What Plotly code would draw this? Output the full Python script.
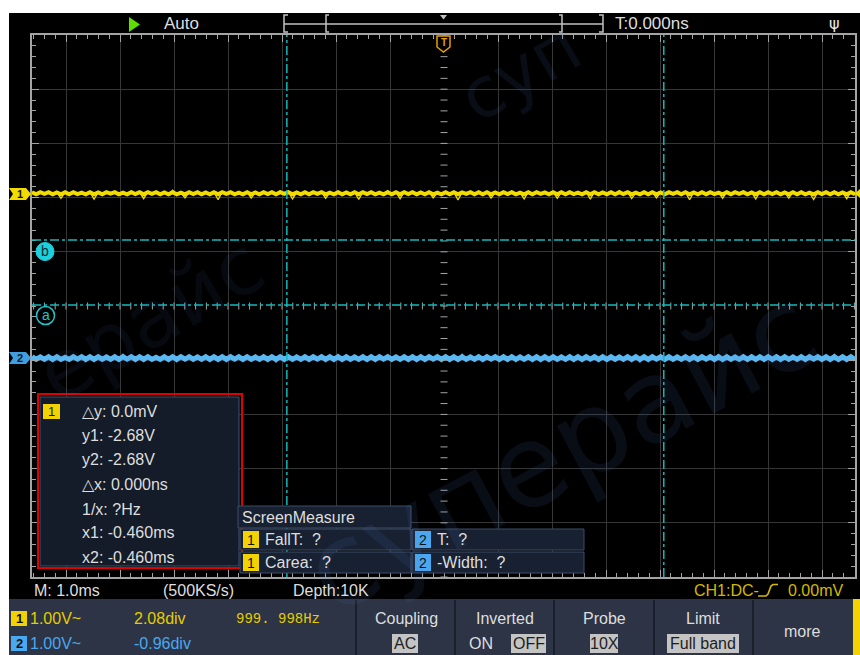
import numpy as np
import plotly.graph_objects as go

W, H = 860, 655
FONT = "Liberation Sans"

# ---------------- data ----------------
ch1_offset_div = 2.08
ch2_offset_div = -0.96
volts_per_div = 1.00
ms_per_div = 1.0

# noise around each channel's level, in mV (hand-read approximation of the traces)
ch1_noise_mv = [
    20, -25, 30, -10, 25, -30, 15, -95, 20, -20, 35, -15, 10, -30, 25, -110, 15, -25, 30, -5,
    25, -30, 10, -20, 40, -15, 20, -100, 25, -10, 30, -25, 15, -30, 55, -20, 10, -85, 25, -15,
    30, -20, 15, -30, 20, -120, 25, -10, 35, -25, 10, -20, 25, -90, 15, -30, 30, -15, 20, -25,
    45, -10, 25, -105, 15, -30, 20, -20, 30, -10, 25, -95, 10, -25, 35, -20, 15, -30, 20, -115,
    25, -15, 30, -25, 10, -20, 50, -30, 20, -100, 25, -15, 30, -25, 15, -20, 25, -85, 10, -30,
    30, -20, 20, -125, 15, -10, 35, -25, 20, -30, 25, -90, 15, -20, 30, -15, 40, -25, 10, -105,
    25, -20, 30, -10, 15, -30, 25, -95, 20, -25, 35, -15, 10, -20, 25, -110, 30, -25, 15, -20,
    20, -30, 50, -15, 25, -100, 10, -20, 30, -25, 20, -85, 15, -30, 25, -10, 35, -20, 20, -120,
    15, -25, 30, -20, 25, -15, 10, -95, 30, -30, 20, -10, 45, -25, 15, -105, 25, -20, 30, -15,
    20, -30, 15, -90, 25, -20, 30, -25, 10, -115, 20, -15, 35, -30, 25, -20, 15, -100, 30, -25,
]
ch2_noise_mv = [
    30, -35, 20, -40, 45, -25, 35, -30, 15, -45, 40, -20, 30, -60, 25, -35, 45, -25, 20, -40,
    35, -30, 70, -20, 25, -45, 30, -35, 40, -25, 15, -40, 35, -30, 25, -65, 40, -20, 30, -35,
    20, -45, 35, -25, 40, -30, 25, -40, 60, -20, 30, -35, 45, -25, 20, -40, 35, -30, 25, -70,
    40, -25, 30, -35, 20, -45, 35, -30, 45, -20, 25, -40, 30, -35, 65, -25, 40, -30, 20, -45,
    30, -35, 25, -40, 45, -20, 35, -60, 20, -30, 40, -25, 30, -45, 25, -35, 35, -20, 40, -30,
    25, -40, 30, -25, 70, -35, 20, -45, 35, -30, 40, -20, 25, -40, 30, -35, 45, -65, 20, -30,
    35, -25, 40, -40, 25, -30, 30, -45, 20, -35, 60, -25, 35, -30, 40, -20, 25, -45, 30, -35,
    45, -30, 20, -40, 35, -25, 30, -70, 40, -35, 25, -20, 35, -45, 30, -30, 20, -40, 45, -25,
    30, -35, 40, -20, 25, -45, 65, -30, 35, -25, 20, -40, 30, -35, 45, -25, 35, -60, 25, -30,
    40, -25, 30, -45, 20, -35, 35, -30, 45, -20, 30, -40, 25, -35, 70, -25, 40, -45, 30, -35,
]

cursor_x_ms = [-2.91, 4.07]      # vertical cursors
cursor_b_div = 1.22              # horizontal cursor b
cursor_a_div = 0.02              # horizontal cursor a

cursor_readout = ["\u25b3y: 0.0mV", "y1: -2.68V", "y2: -2.68V", "\u25b3x: 0.000ns",
                  "1/x: ?Hz", "x1: -0.460ms", "x2: -0.460ms"]
measure_header = "ScreenMeasure"
measure_cells = [["1", "FallT:\u00a0\u00a0?"], ["2", "T:\u00a0\u00a0?"],
                 ["1", "Carea:\u00a0\u00a0?"], ["2", "-Width:\u00a0\u00a0?"]]
status_texts = ["M: 1.0ms", "(500KS/s)", "Depth:10K"]
trigger_status = ["CH1:DC-", "0.00mV"]
ch_info = [["1", "1.00V~", "2.08div", "999.\u00a0998Hz"], ["2", "1.00V~", "-0.96div", ""]]
menu_titles = ["Coupling", "Inverted", "Probe", "Limit", "more"]
menu_values = ["AC", "OFF", "10X", "Full band", ""]
top_texts = ["Auto", "T:0.000ns"]

# ---------------- geometry / style ----------------
GX0, GX1, GCX, DIVX = 32, 855, 444, 54.0
GY0, GY1 = 35, 577
x_min = (GX0 - GCX) / DIVX * ms_per_div
x_max = (GX1 - GCX) / DIVX * ms_per_div

YEL = "#f2dc00"
BLU = "#5ab8f2"
CYAN = "#14b8bc"
GRIDC = "#363636"
BORDC = "#a4a4a4"
TXT = "#dedede"

shapes = []
ann = []


def fx(x):
    return x / W


def fy(y):
    return 1 - y / H


def rect(x0, y0, x1, y1, fill, line=None, lw=1, layer="above"):
    shapes.append(dict(type="rect", xref="paper", yref="paper",
                       x0=fx(x0), x1=fx(x1), y0=fy(y1), y1=fy(y0),
                       fillcolor=fill, layer=layer,
                       line=dict(color=line if line else "rgba(0,0,0,0)", width=lw if line else 0)))


def path(pts, fill=None, line=None, lw=1.5, close=True):
    d = "M " + " L ".join(f"{fx(x):.5f},{fy(y):.5f}" for x, y in pts)
    if close:
        d += " Z"
    shapes.append(dict(type="path", xref="paper", yref="paper", path=d,
                       fillcolor=fill if fill else "rgba(0,0,0,0)", layer="above",
                       line=dict(color=line if line else "rgba(0,0,0,0)", width=lw if line else 0)))


def text(x, y, s, size=16, color=TXT, anchor="left", family=FONT, angle=0):
    ann.append(dict(x=fx(x), y=fy(y), xref="paper", yref="paper", text=s, showarrow=False,
                    xanchor=anchor, yanchor="middle", textangle=angle,
                    font=dict(size=size, color=color, family=family)))


fig = go.Figure()

# ---------------- waveforms ----------------
n1 = np.array(ch1_noise_mv, dtype=float)
n2 = np.array(ch2_noise_mv, dtype=float)
t1 = np.linspace(x_min, x_max, len(n1))
t2 = np.linspace(x_min, x_max, len(n2))
y1 = ch1_offset_div + n1 / 1000.0 / volts_per_div
y2 = ch2_offset_div + n2 / 1000.0 / volts_per_div
# dense core of each trace (small excursions), drawn thick
y1c = ch1_offset_div + np.clip(n1, -20, 20) / 1000.0 / volts_per_div
y2c = ch2_offset_div + np.clip(n2, -25, 25) / 1000.0 / volts_per_div

fig.add_trace(go.Scatter(x=t1, y=y1c, mode="lines", line=dict(color=YEL, width=4), hoverinfo="skip"))
fig.add_trace(go.Scatter(x=t1, y=y1, mode="lines", line=dict(color=YEL, width=1.3), hoverinfo="skip"))
fig.add_trace(go.Scatter(x=t2, y=y2c, mode="lines", line=dict(color=BLU, width=5), hoverinfo="skip"))
fig.add_trace(go.Scatter(x=t2, y=y2, mode="lines", line=dict(color=BLU, width=1.3), hoverinfo="skip"))

# centre cross ticks
cy_ticks = np.arange(-5, 5.001, 0.2)
cx_ticks = np.arange(-7.6, 7.61, 0.2)
fig.add_trace(go.Scatter(x=[0] * len(cy_ticks), y=cy_ticks, mode="markers", hoverinfo="skip",
                         marker=dict(symbol="line-ew", size=5, line=dict(color=BORDC, width=1))))
fig.add_trace(go.Scatter(x=cx_ticks, y=[0] * len(cx_ticks), mode="markers", hoverinfo="skip",
                         marker=dict(symbol="line-ns", size=5, line=dict(color=BORDC, width=1))))

# ---------------- backgrounds ----------------
rect(9, 13, 860, 600, "#000000", layer="below")

# watermark (faint), kept inside the picture
WM = "rgba(90,130,210,0.10)"
text(520, 72, "суп", size=70, color=WM, anchor="center", family="DejaVu Sans", angle=-30)
text(560, 450, "суперайс", size=115, color=WM, anchor="center", family="DejaVu Sans", angle=-28)
text(150, 320, "ерайс", size=80, color="rgba(90,130,210,0.07)", anchor="center", family="DejaVu Sans", angle=-30)

# ---------------- cursors ----------------
for cx in cursor_x_ms:
    shapes.append(dict(type="line", xref="x", yref="y", x0=cx, x1=cx, y0=-5, y1=5, layer="above",
                       line=dict(color=CYAN, width=1.5, dash="dashdot")))
for cyv in (cursor_b_div, cursor_a_div):
    shapes.append(dict(type="line", xref="x", yref="y", x0=x_min, x1=x_max, y0=cyv, y1=cyv, layer="above",
                       line=dict(color=CYAN, width=1.5, dash="dashdot")))

# cursor markers a / b
shapes.append(dict(type="circle", xref="paper", yref="paper", x0=fx(36), x1=fx(54), y0=fy(260.5), y1=fy(242.5),
                   fillcolor="#1fd0dc", line=dict(color="#1fd0dc", width=1), layer="above"))
text(45, 251, "b", size=14, color="#002a30", anchor="center")
shapes.append(dict(type="circle", xref="paper", yref="paper", x0=fx(36.5), x1=fx(54.5), y0=fy(324.5), y1=fy(306.5),
                   fillcolor="#000000", line=dict(color="#1fc4cc", width=1.5), layer="above"))
text(45.5, 315, "a", size=14, color="#1fc4cc", anchor="center")

# ---------------- cursor readout box ----------------
rect(40, 397, 239, 566, "#151c29", line="#3a5272", lw=1)
rect(38, 394, 242, 568, "rgba(0,0,0,0)", line="#e00000", lw=2)
rect(43, 404, 60, 419, "#f2d200")
text(51.5, 411.5, "1", size=13, color="#1a1a1a", anchor="center")
ys = [411.5, 435, 459, 484, 509, 532, 557]
for s, yy in zip(cursor_readout, ys):
    text(80, yy, s, size=16)

# ---------------- ScreenMeasure panel ----------------
PANEL = "#182131"
PBORD = "#3c4d68"
rect(238, 506, 411, 528, PANEL, line=PBORD)
text(240, 517, measure_header, size=16)
cells = [(240, 529, 411, 550), (412, 529, 584, 550), (240, 552, 411, 573), (412, 552, 584, 573)]
for (ch, lab), (x0, y0, x1, y1_) in zip(measure_cells, cells):
    rect(x0, y0, x1, y1_, PANEL, line=PBORD)
    col = "#f2d200" if ch == "1" else "#4aa8f0"
    rect(x0 + 3, y0 + 2, x0 + 19, y1_ - 2, col)
    text(x0 + 11, (y0 + y1_) / 2, ch, size=14, color="#111111", anchor="center")
    text(x0 + 23, (y0 + y1_) / 2, lab, size=16)

# ---------------- top bar ----------------
path([(129, 17), (140, 24.5), (129, 32)], fill="#5ee000")
text(162, 24, top_texts[0], size=17)
GRY = "#c2c2c2"
path([(288, 15), (284, 15), (284, 32), (288, 32)], line=GRY, lw=1.5, close=False)
path([(284, 24), (603, 24)], line=GRY, lw=1.5, close=False)
path([(329, 15), (326, 15), (326, 32), (329, 32)], line=GRY, lw=1.5, close=False)
path([(559, 15), (562, 15), (562, 32), (559, 32)], line=GRY, lw=1.5, close=False)
path([(599, 15), (603, 15), (603, 32), (599, 32)], line=GRY, lw=1.5, close=False)
path([(440, 15), (447, 15), (443.5, 19.5)], fill=GRY)
text(613, 24, top_texts[1], size=17)
text(834, 23, "ψ", size=16, color="#e8e8e8", anchor="center", family="DejaVu Sans")

# trigger position marker
path([(437, 36), (450, 36), (450, 47), (443.5, 52), (437, 47)], fill="#000000", line="#e8a000", lw=1.5)
text(443.5, 43, "<b>T</b>", size=10, color="#e8a000", anchor="center")

# channel level markers
path([(9, 188), (26, 188), (31, 194), (26, 200), (9, 200), (13, 194)], fill=YEL)
text(20, 194, "<b>1</b>", size=11, color="#111111", anchor="center")
path([(9, 352), (26, 352), (31, 358), (26, 364), (9, 364), (13, 358)], fill="#3f9ee0")
text(20, 358, "<b>2</b>", size=11, color="#0a1a2a", anchor="center")
# trigger level marker (right)
path([(860, 189), (855, 193.5), (860, 198)], fill=YEL)

# ---------------- status line ----------------
text(32, 590, status_texts[0], size=16)
text(161, 590, status_texts[1], size=16)
text(291, 590, status_texts[2], size=16)
TYEL = "#d4b800"
text(692, 590, trigger_status[0], size=16, color=TYEL)
path([(758, 596), (766, 596), (768, 594), (771, 586), (773, 584.5), (778, 584.5)], line=TYEL, lw=1.6, close=False)
text(786, 590, trigger_status[1], size=16, color=TYEL)

# ---------------- bottom menu ----------------
MENU = "#2c3445"
rect(9, 599, 853, 655, MENU)
rect(853, 599, 860, 655, "#f2d200")
for sx in (356, 455, 554, 654, 753):
    path([(sx, 600), (sx, 655)], line="#1a202b", lw=2, close=False)

# channel info
row_y = [618.5, 643.5]
for (ch, vdiv, pos, freq), yy in zip(ch_info, row_y):
    col = "#f2d200" if ch == "1" else "#4aa8f0"
    tcol = "#e6cc00" if ch == "1" else "#4aa8f0"
    rect(11, yy - 7.5, 27, yy + 7.5, col)
    text(19, yy, "<b>" + ch + "</b>", size=13, color="#111111", anchor="center")
    text(28, yy, vdiv, size=16, color=tcol)
    text(132, yy, pos, size=16, color=tcol)
    if freq:
        text(234, yy, freq, size=14, color=tcol, family="Liberation Mono")

# menu buttons
centers = [406, 504.5, 604.5, 703, 802]
for i, (title, val, cx) in enumerate(zip(menu_titles, menu_values, centers)):
    if title == "more":
        text(cx, 631, title, size=16, anchor="center")
        continue
    text(cx, 618, title, size=16, anchor="center")
boxes = {"AC": (392, 418), "OFF": (511, 546), "10X": (590, 618), "Full band": (667, 739)}
for val in menu_values:
    if not val:
        continue
    x0, x1 = boxes[val]
    rect(x0, 634, x1, 653, "#c4c4c4")
    text((x0 + x1) / 2, 643.5, val, size=16, color="#1e1e1e", anchor="center")
text(467, 643.5, "ON", size=16)

# ---------------- layout ----------------
fig.update_layout(
    width=W, height=H,
    margin=dict(l=0, r=0, t=0, b=0, pad=0),
    paper_bgcolor="#ffffff",
    plot_bgcolor="#000000",
    showlegend=False,
    hovermode=False,
    shapes=shapes,
    annotations=ann,
    xaxis=dict(
        domain=[GX0 / W, GX1 / W], range=[x_min, x_max],
        tickmode="array", tickvals=[k for k in range(-7, 8) if k != 0],
        showticklabels=False, showgrid=True, gridcolor=GRIDC, gridwidth=1,
        zeroline=False, ticks="inside", ticklen=7, tickcolor=BORDC, tickwidth=1,
        showline=True, linecolor=BORDC, linewidth=2, mirror="allticks",
        minor=dict(tickmode="linear", tick0=0, dtick=0.2, ticks="inside", ticklen=4,
                   tickcolor=BORDC, tickwidth=1, showgrid=False),
        fixedrange=True,
    ),
    yaxis=dict(
        domain=[1 - GY1 / H, 1 - GY0 / H], range=[-5, 5],
        tickmode="array", tickvals=[k for k in range(-4, 5) if k != 0],
        showticklabels=False, showgrid=True, gridcolor=GRIDC, gridwidth=1,
        zeroline=False, ticks="inside", ticklen=7, tickcolor=BORDC, tickwidth=1,
        showline=True, linecolor=BORDC, linewidth=2, mirror="allticks",
        minor=dict(tickmode="linear", tick0=0, dtick=0.2, ticks="inside", ticklen=4,
                   tickcolor=BORDC, tickwidth=1, showgrid=False),
        fixedrange=True,
    ),
)

fig.write_html("out.html", config={"displayModeBar": False},
               post_script="document.body.style.margin='0px';document.body.style.overflow='hidden';")
